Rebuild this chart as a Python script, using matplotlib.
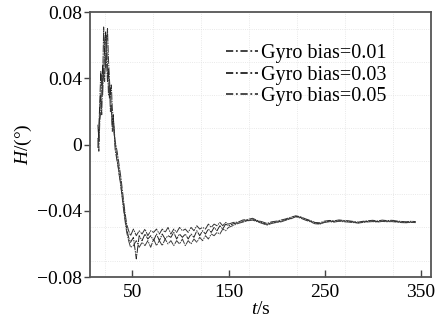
import numpy as np
import matplotlib
matplotlib.use("Agg")
import matplotlib.pyplot as plt

plt.rcParams['font.family'] = ['Liberation Serif', 'DejaVu Serif']
plt.rcParams['mathtext.fontset'] = 'custom'
plt.rcParams['mathtext.rm'] = 'Liberation Serif'
plt.rcParams['mathtext.it'] = 'Liberation Serif:italic'

# sample times (s)
t_head = list(range(14, 31)) + list(range(32, 49, 2)) + list(range(51, 151, 3))
t_tail = list(range(155, 346, 5))

# heading error H (deg)
h_001 = [0.012, 0.002, 0.022, 0.030, 0.018, 0.040, 0.071, 0.055, 0.046, 0.062, 0.070, 0.052, 0.040, 0.030, 0.036, 0.022, 0.016,
         0.002, -0.004, -0.012, -0.020, -0.030, -0.040, -0.048, -0.052, -0.055,
         -0.051, -0.055, -0.052, -0.054, -0.051, -0.055, -0.052, -0.053, -0.051, -0.054,
         -0.051, -0.053, -0.050, -0.054, -0.051, -0.053, -0.050, -0.052, -0.051, -0.053,
         -0.050, -0.052, -0.049, -0.051, -0.050, -0.051, -0.048, -0.050, -0.048, -0.049,
         -0.047, -0.049, -0.047, -0.048]
h_003 = [-0.002, 0.010, 0.026, 0.044, 0.036, 0.048, 0.040, 0.060, 0.068, 0.050, 0.038, 0.046, 0.028, 0.034, 0.020, 0.012, 0.018,
         -0.003, -0.010, -0.016, -0.026, -0.034, -0.043, -0.051, -0.056, -0.059,
         -0.056, -0.069, -0.055, -0.058, -0.054, -0.057, -0.055, -0.058, -0.054, -0.058,
         -0.054, -0.057, -0.055, -0.056, -0.053, -0.057, -0.054, -0.056, -0.054, -0.057,
         -0.054, -0.056, -0.052, -0.055, -0.052, -0.054, -0.051, -0.053, -0.050, -0.052,
         -0.049, -0.051, -0.048, -0.049]
h_005 = [0.004, -0.004, 0.014, 0.020, 0.042, 0.030, 0.046, 0.038, 0.052, 0.066, 0.048, 0.030, 0.036, 0.020, 0.024, 0.008, 0.012,
         0.000, -0.008, -0.018, -0.024, -0.036, -0.045, -0.053, -0.058, -0.062,
         -0.061, -0.058, -0.062, -0.059, -0.061, -0.058, -0.062, -0.057, -0.061, -0.058,
         -0.061, -0.057, -0.060, -0.058, -0.061, -0.058, -0.060, -0.057, -0.061, -0.058,
         -0.060, -0.057, -0.059, -0.056, -0.058, -0.055, -0.057, -0.054, -0.055, -0.053,
         -0.054, -0.051, -0.052, -0.050]
# after ~150 s the three runs nearly coincide
tail_001 = [-0.0470, -0.0468, -0.0455, -0.0452, -0.0445, -0.0458, -0.0466, -0.0476, -0.0466, -0.0462,
            -0.0455, -0.0448, -0.0438, -0.0430, -0.0436, -0.0448, -0.0458, -0.0470, -0.0472, -0.0462,
            -0.0458, -0.0460, -0.0455, -0.0458, -0.0460, -0.0464, -0.0468, -0.0463, -0.0460, -0.0457,
            -0.0461, -0.0456, -0.0459, -0.0457, -0.0461, -0.0464, -0.0466, -0.0463, -0.0465]
tail_003 = [-0.0478, -0.0472, -0.0462, -0.0458, -0.0452, -0.0462, -0.0472, -0.0482, -0.0472, -0.0468,
            -0.0462, -0.0452, -0.0445, -0.0433, -0.0440, -0.0452, -0.0462, -0.0474, -0.0478, -0.0468,
            -0.0462, -0.0465, -0.0460, -0.0462, -0.0464, -0.0468, -0.0472, -0.0467, -0.0464, -0.0462,
            -0.0465, -0.0461, -0.0463, -0.0462, -0.0465, -0.0468, -0.0470, -0.0468, -0.0469]
tail_005 = [-0.0488, -0.0476, -0.0468, -0.0460, -0.0456, -0.0466, -0.0476, -0.0486, -0.0476, -0.0470,
            -0.0466, -0.0456, -0.0448, -0.0436, -0.0444, -0.0456, -0.0466, -0.0478, -0.0480, -0.0470,
            -0.0466, -0.0468, -0.0463, -0.0466, -0.0468, -0.0471, -0.0474, -0.0470, -0.0467, -0.0465,
            -0.0468, -0.0464, -0.0466, -0.0465, -0.0468, -0.0471, -0.0472, -0.0470, -0.0471]

labels = ['Gyro bias=0.01', 'Gyro bias=0.03', 'Gyro bias=0.05']
x_ticks = [50, 150, 250, 350]
y_ticks = [0.08, 0.04, 0, -0.04, -0.08]
y_ticklabels = ['0.08', '0.04', '0', '\u22120.04', '\u22120.08']

fig = plt.figure(figsize=(4.4, 3.26), dpi=100)
ax = fig.add_axes([0.205, 0.150, 0.775, 0.813])

# faint dotted background grid
for yg in [0.07, 0.05, 0.03, 0.01, -0.01, -0.03, -0.05, -0.07]:
    ax.axhline(yg, color='#e2e2e2', lw=0.6, ls=':', zorder=0)
for xg in [21, 71, 121, 171, 221, 271, 321]:
    ax.axvline(xg, color='#e2e2e2', lw=0.6, ls=':', zorder=0)

t_all = t_head + t_tail
dash = (0, (8, 1, 1.5, 1))
colors = ['#333333', '#222222', '#3c3c3c']
series = [h_001 + tail_001, h_003 + tail_003, h_005 + tail_005]
for h, lab, c in zip(series, labels, colors):
    ax.plot(t_all, h, color=c, lw=0.7, ls=dash, label=lab)

ax.set_xlim(6, 361)
ax.set_ylim(-0.08, 0.08)
ax.set_xticks(x_ticks)
ax.set_yticks(y_ticks)
ax.set_yticklabels(y_ticklabels)
ax.tick_params(axis='x', direction='in', length=5, width=1, color='#444', labelsize=14, pad=5)
ax.tick_params(axis='y', direction='out', length=4, width=1, color='#444', labelsize=14, pad=2)
for s in ax.spines.values():
    s.set_color('#555')
    s.set_linewidth(1.3)

ax.set_xlabel('$t$/s', fontsize=14, labelpad=0)
ax.set_ylabel('$H$/(\u00b0)', fontsize=14, labelpad=2)

leg = ax.legend(loc='upper right', bbox_to_anchor=(0.868, 0.878), frameon=False, fontsize=14.5,
                handlelength=1.55, handletextpad=0.15, labelspacing=0.1, borderpad=0, borderaxespad=0)
for ln in leg.get_lines():
    ln.set_linewidth(1.3)
    ln.set_linestyle((0, (4, 1.5, 1, 1.5)))

fig.savefig('out.png', dpi=100)
